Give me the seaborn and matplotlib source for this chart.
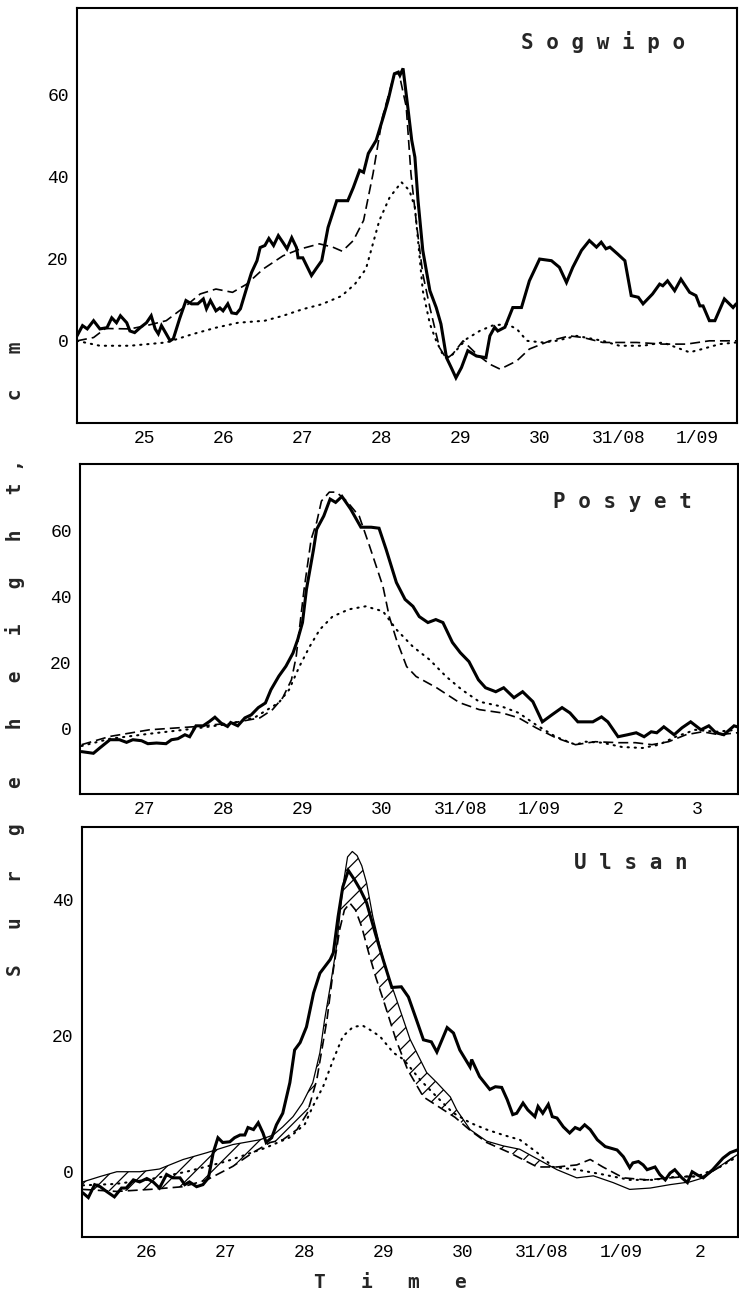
import numpy as np
import matplotlib
matplotlib.use("Agg")
import matplotlib.pyplot as plt
import seaborn as sns

# ---------------- data (day of month, cm) ----------------
# Sogwipo
SOG_OBS_T = [24.14, 24.21, 24.27, 24.35, 24.43, 24.52, 24.58, 24.64, 24.69, 24.77,
             24.81, 24.87, 24.94, 25.02, 25.08, 25.13, 25.17, 25.21, 25.27, 25.32,
             25.36, 25.44, 25.52, 25.59, 25.67, 25.74, 25.78, 25.83, 25.90, 25.95,
             25.99, 26.05, 26.10, 26.16, 26.21, 26.29, 26.35, 26.42, 26.46, 26.52,
             26.57, 26.63, 26.69, 26.75, 26.80, 26.86, 26.92, 26.94, 27.00, 27.11,
             27.17, 27.24, 27.32, 27.43, 27.57, 27.64, 27.72, 27.77, 27.83, 27.93,
             28.02, 28.08, 28.16, 28.21, 28.23, 28.27, 28.33, 28.38, 28.42, 28.46,
             28.52, 28.61, 28.69, 28.75, 28.82, 28.88, 28.94, 29.01, 29.09, 29.20,
             29.32, 29.37, 29.43, 29.47, 29.56, 29.66, 29.77, 29.87, 30.00, 30.15,
             30.25, 30.34, 30.42, 30.53, 30.63, 30.72, 30.78, 30.84, 30.89, 30.99,
             31.08, 31.16, 31.25, 31.31, 31.43, 31.52, 31.56, 31.62, 31.71, 31.79,
             31.90, 31.98, 32.03, 32.07, 32.15, 32.22, 32.34, 32.45, 32.49]
SOG_OBS_V = [1.2, 3.7, 2.9, 4.9, 2.9, 3.2, 5.6, 4.4, 6.1, 4.4,
             2.4, 2.0, 3.2, 4.4, 6.1, 2.9, 1.7, 3.7, 1.7, 0.0,
             0.5, 5.4, 9.8, 9.0, 9.0, 10.2, 7.8, 9.8, 7.3, 8.0,
             7.3, 9.0, 6.8, 6.6, 7.8, 12.9, 16.6, 19.5, 22.7, 23.2,
             24.9, 23.2, 25.6, 23.9, 22.4, 25.1, 22.7, 20.2, 20.2, 15.9,
             17.6, 19.5, 27.6, 34.1, 34.1, 37.3, 41.5, 41.0, 45.6, 48.8,
             54.5, 58.5, 65.0, 65.4, 64.6, 66.3, 56.9, 48.8, 44.7, 34.1,
             22.0, 12.2, 8.1, 4.1, -4.1, -6.5, -9.0, -6.5, -2.4, -3.7,
             -4.1, 1.2, 3.3, 2.4, 3.3, 8.1, 8.1, 14.6, 19.9, 19.5,
             17.9, 14.2, 17.9, 22.0, 24.4, 22.8, 24.0, 22.4, 22.8, 21.1,
             19.5, 11.0, 10.6, 9.0, 11.4, 13.8, 13.4, 14.6, 12.2, 15.0,
             11.8, 11.0, 8.5, 8.5, 4.9, 4.9, 10.2, 8.1, 9.0]
SOG_DASH_T = [24.14, 24.35, 24.50, 24.81, 25.02, 25.27, 25.52, 25.70, 25.90, 26.11,
              26.29, 26.50, 26.75, 26.96, 27.21, 27.38, 27.50, 27.64, 27.77, 27.89,
              28.01, 28.16, 28.22, 28.31, 28.37, 28.44, 28.52, 28.61, 28.73, 28.82,
              28.90, 29.03, 29.20, 29.37, 29.50, 29.71, 29.87, 30.13, 30.38, 30.55,
              30.80, 31.23, 31.56, 31.86, 32.15, 32.49]
SOG_DASH_V = [0.0, 0.8, 3.0, 2.9, 3.7, 4.9, 8.5, 11.4, 12.6, 11.8,
              13.8, 17.5, 20.7, 22.3, 23.6, 22.8, 21.8, 24.4, 29.3, 40.7,
              54.5, 65.0, 65.0, 57.0, 40.7, 28.5, 16.3, 8.1, -1.6, -4.4,
              -3.2, 0.0, -3.2, -5.7, -6.9, -4.9, -2.0, 0.0, 1.2, 0.8,
              -0.4, -0.4, -0.8, -0.8, 0.0, 0.0]
SOG_DOT_T = [24.14, 24.43, 24.81, 25.27, 25.60, 25.90, 26.18, 26.52, 26.75, 27.00,
             27.24, 27.49, 27.66, 27.80, 27.97, 28.10, 28.25, 28.35, 28.42, 28.46,
             28.52, 28.61, 28.69, 28.77, 28.86, 28.94, 29.07, 29.24, 29.40, 29.58,
             29.71, 29.84, 30.04, 30.21, 30.47, 30.80, 31.01, 31.31, 31.56, 31.73,
             31.90, 32.06, 32.28, 32.49]
SOG_DOT_V = [0.0, -1.2, -1.2, -0.4, 1.6, 3.2, 4.4, 4.9, 6.1, 7.7,
             8.9, 10.9, 13.8, 17.5, 29.3, 34.9, 38.6, 36.6, 32.5, 24.4,
             12.2, 4.1, 0.0, -3.2, -4.1, -2.4, 0.4, 2.4, 3.7, 4.1,
             2.9, 0.0, -0.4, 0.0, 1.2, 0.0, -1.2, -1.2, -0.4, -1.6,
             -2.8, -2.0, -0.8, -0.4]

# Posyet
POS_OBS_T = [26.20, 26.35, 26.43, 26.56, 26.68, 26.77, 26.85, 26.96, 27.04, 27.15,
             27.27, 27.34, 27.42, 27.51, 27.57, 27.65, 27.74, 27.82, 27.89, 27.97,
             28.05, 28.09, 28.18, 28.27, 28.35, 28.44, 28.53, 28.60, 28.70, 28.79,
             28.88, 28.94, 29.00, 29.05, 29.14, 29.18, 29.27, 29.35, 29.42, 29.50,
             29.61, 29.74, 29.87, 29.97, 30.06, 30.19, 30.30, 30.40, 30.48, 30.59,
             30.69, 30.78, 30.90, 31.00, 31.11, 31.23, 31.32, 31.45, 31.55, 31.68,
             31.79, 31.92, 32.04, 32.16, 32.29, 32.39, 32.49, 32.68, 32.79, 32.87,
             33.00, 33.12, 33.23, 33.33, 33.42, 33.49, 33.58, 33.71, 33.81, 33.92,
             34.05, 34.15, 34.24, 34.34, 34.47, 34.51]
POS_OBS_V = [-6.9, -7.4, -5.8, -3.3, -3.3, -4.1, -3.3, -3.6, -4.5, -4.3,
             -4.5, -3.3, -3.0, -1.8, -2.4, 0.9, 0.9, 2.2, 3.5, 1.7,
             0.7, 1.9, 0.9, 3.3, 4.2, 6.4, 7.8, 11.8, 15.9, 18.9,
             22.9, 27.0, 32.1, 42.1, 54.2, 60.3, 64.3, 69.4, 68.4, 70.2,
             66.4, 60.9, 60.9, 60.6, 54.2, 44.2, 39.1, 37.0, 33.9, 32.1,
             33.0, 32.1, 26.1, 23.0, 20.3, 14.8, 12.4, 11.2, 12.4, 9.4,
             11.2, 8.2, 2.1, 4.2, 6.4, 4.8, 2.1, 2.1, 3.6, 2.1,
             -2.4, -1.8, -1.2, -2.4, -0.9, -1.2, 0.6, -1.8, 0.3, 2.1,
             -0.3, 0.9, -1.2, -1.8, 0.9, 0.6]
POS_DASH_T = [26.20, 26.56, 27.06, 27.61, 28.12, 28.46, 28.62, 28.75, 28.86, 28.92,
              28.96, 29.02, 29.11, 29.18, 29.24, 29.34, 29.43, 29.56, 29.72, 29.85,
              30.02, 30.10, 30.19, 30.32, 30.44, 30.70, 30.99, 31.24, 31.53, 31.74,
              31.96, 32.21, 32.46, 32.71, 33.01, 33.22, 33.43, 33.64, 33.86, 34.07,
              34.28, 34.51]
POS_DASH_V = [-4.8, -2.3, -0.3, 0.6, 1.8, 3.3, 5.8, 9.4, 14.8, 21.8,
              30.0, 42.1, 57.3, 62.4, 68.8, 71.5, 71.5, 68.8, 64.2, 55.2,
              43.0, 33.9, 27.0, 18.8, 15.8, 12.4, 7.9, 5.8, 4.8, 3.3,
              0.3, -2.7, -4.8, -3.9, -4.2, -4.2, -4.8, -3.9, -1.8, -0.9,
              -1.8, -1.2]
POS_DOT_T = [26.20, 26.56, 27.06, 27.61, 28.08, 28.40, 28.70, 28.83, 28.96, 29.09,
             29.22, 29.38, 29.59, 29.80, 30.02, 30.19, 30.40, 30.61, 30.82, 31.02,
             31.24, 31.53, 31.74, 31.96, 32.21, 32.46, 32.59, 32.80, 33.05, 33.31,
             33.52, 33.73, 33.98, 34.24, 34.51]
POS_DOT_V = [-5.2, -3.0, -1.5, 0.0, 1.5, 3.5, 7.9, 11.8, 18.8, 24.8,
             30.0, 33.9, 36.1, 37.0, 35.5, 30.0, 24.8, 20.9, 15.8, 11.8,
             8.2, 6.7, 4.8, 1.2, -2.4, -4.8, -3.9, -4.2, -5.5, -5.8,
             -4.8, -2.4, -0.3, -0.9, -0.3]

# Ulsan
ULS_OBS_T = [25.19, 25.26, 25.34, 25.41, 25.49, 25.59, 25.68, 25.74, 25.83, 25.91,
             26.00, 26.08, 26.16, 26.25, 26.33, 26.42, 26.48, 26.54, 26.63, 26.71,
             26.78, 26.84, 26.90, 26.96, 27.05, 27.11, 27.18, 27.24, 27.28, 27.35,
             27.41, 27.47, 27.51, 27.58, 27.64, 27.72, 27.81, 27.87, 27.94, 28.02,
             28.11, 28.19, 28.32, 28.36, 28.42, 28.48, 28.55, 28.63, 28.70, 28.78,
             28.89, 28.99, 29.10, 29.22, 29.31, 29.41, 29.50, 29.60, 29.67, 29.80,
             29.88, 29.96, 30.09, 30.11, 30.21, 30.34, 30.41, 30.49, 30.56, 30.63,
             30.68, 30.76, 30.82, 30.91, 30.95, 31.01, 31.08, 31.13, 31.19, 31.27,
             31.35, 31.42, 31.48, 31.54, 31.61, 31.70, 31.80, 31.86, 31.95, 32.03,
             32.11, 32.15, 32.22, 32.28, 32.33, 32.43, 32.49, 32.56, 32.62, 32.68,
             32.77, 32.84, 32.90, 32.97, 33.04, 33.16, 33.29, 33.38, 33.47]
ULS_OBS_V = [-3.1, -3.8, -1.9, -2.2, -2.9, -3.7, -2.4, -2.4, -1.2, -1.5,
             -1.0, -1.5, -2.4, -0.4, -0.9, -0.9, -1.9, -1.5, -2.2, -1.9,
             -0.9, 2.8, 5.0, 4.3, 4.4, 5.0, 5.4, 5.4, 6.5, 6.2,
             7.2, 5.7, 4.3, 5.0, 6.9, 8.6, 13.1, 17.9, 19.0, 21.3,
             26.3, 29.2, 31.2, 32.2, 37.5, 41.9, 44.3, 42.9, 41.5, 39.6,
             35.1, 31.2, 27.1, 27.2, 25.7, 22.4, 19.4, 19.1, 17.6, 21.2,
             20.4, 17.9, 15.4, 16.5, 14.0, 12.1, 12.5, 12.4, 10.6, 8.4,
             8.6, 10.1, 9.1, 8.1, 9.6, 8.6, 9.9, 8.1, 7.9, 6.6,
             5.7, 6.5, 6.2, 6.9, 6.2, 4.7, 3.7, 3.5, 3.2, 2.2,
             0.6, 1.3, 1.5, 1.0, 0.3, 0.7, -0.4, -1.2, -0.2, 0.3,
             -0.9, -1.6, 0.0, -0.5, -0.9, 0.3, 2.0, 2.8, 3.2]
ULS_THIN_T = [25.19, 25.41, 25.62, 25.91, 26.16, 26.46, 26.76, 27.09, 27.43, 27.60,
              27.72, 27.85, 27.97, 28.10, 28.19, 28.25, 28.32, 28.40, 28.48, 28.54,
              28.60, 28.66, 28.72, 28.78, 28.86, 28.95, 29.04, 29.16, 29.33, 29.54,
              29.67, 29.84, 29.92, 30.09, 30.30, 30.51, 30.72, 30.89, 31.19, 31.44,
              31.65, 31.90, 32.11, 32.37, 32.62, 32.87, 33.04, 33.25, 33.47]
ULS_THIN_V = [-1.5, -0.7, 0.0, 0.0, 0.4, 1.8, 2.8, 4.0, 4.7, 5.4,
              6.6, 8.1, 10.1, 13.1, 17.5, 22.4, 27.2, 33.1, 41.9, 46.3,
              47.1, 46.5, 45.0, 42.5, 37.5, 33.1, 29.3, 25.3, 19.5, 14.6,
              13.1, 11.0, 9.1, 6.2, 4.5, 3.8, 3.3, 2.2, 0.3, -0.9,
              -0.6, -1.6, -2.6, -2.4, -1.9, -1.5, -0.9, 0.8, 2.5]
ULS_DASH_T = [25.19, 25.62, 26.04, 26.46, 26.76, 27.09, 27.34, 27.56, 27.72, 27.90,
              28.03, 28.15, 28.28, 28.36, 28.44, 28.50, 28.57, 28.64, 28.72, 28.80,
              28.90, 29.00, 29.15, 29.30, 29.50, 29.70, 29.90, 30.10, 30.30, 30.59,
              30.94, 31.19, 31.44, 31.61, 31.77, 32.03, 32.33, 32.62, 32.84, 33.04,
              33.25, 33.47]
ULS_DASH_V = [-2.6, -2.9, -2.6, -2.2, -1.2, 0.8, 2.8, 4.3, 4.7, 6.2,
              8.6, 13.5, 22.4, 29.7, 35.6, 38.5, 39.5, 38.5, 36.0, 32.5,
              28.5, 25.0, 19.5, 15.0, 11.0, 9.5, 8.0, 6.0, 4.3, 2.8,
              0.7, 0.7, 1.0, 1.8, 0.7, -0.9, -1.2, -0.9, -0.7, -0.7,
              0.7, 2.5]
ULS_DOT_T = [25.19, 25.60, 26.00, 26.50, 27.00, 27.50, 27.80, 28.00, 28.10, 28.23,
             28.36, 28.48, 28.61, 28.73, 28.82, 28.95, 29.12, 29.25, 29.46, 29.67,
             29.87, 30.09, 30.30, 30.51, 30.72, 30.94, 31.14, 31.44, 31.77, 32.11,
             32.41, 32.71, 32.96, 33.25, 33.47]
ULS_DOT_V = [-2.0, -1.8, -1.2, 0.0, 1.5, 3.5, 5.0, 7.0, 9.6, 12.5,
             16.5, 19.9, 21.3, 21.5, 20.9, 19.9, 17.5, 16.5, 13.5, 11.0,
             8.7, 7.2, 6.2, 5.4, 4.7, 2.8, 0.7, 0.3, -0.4, -1.2,
             -1.2, -0.7, -0.7, 0.7, 2.2]

# ticks / labels
SOG_XTICKS = [25, 26, 27, 28, 29, 30, 31, 32]
SOG_XLABELS = ["25", "26", "27", "28", "29", "30", "31/08", "1/09"]
POS_XTICKS = [27, 28, 29, 30, 31, 32, 33, 34]
POS_XLABELS = ["27", "28", "29", "30", "31/08", "1/09", "2", "3"]
ULS_XTICKS = [26, 27, 28, 29, 30, 31, 32, 33]
ULS_XLABELS = ["26", "27", "28", "29", "30", "31/08", "1/09", "2"]
YTICKS_A = [0, 20, 40, 60]
YTICKS_B = [0, 20, 40]
TITLES = ["S o g w i p o", "P o s y e t", "U l s a n"]

# ---------------- style ----------------
sns.set_style("white")
plt.rcParams["font.family"] = ["Liberation Mono", "DejaVu Sans Mono"]
plt.rcParams["hatch.linewidth"] = 0.9

fig = plt.figure(figsize=(7.39, 13.01), dpi=100)

axes_pos = [
    [77 / 739, 1 - 423 / 1301, 660 / 739, 415 / 1301],
    [80 / 739, 1 - 794 / 1301, 658 / 739, 330 / 1301],
    [82 / 739, 1 - 1237 / 1301, 656 / 739, 410 / 1301],
]

OBS_KW = dict(color="black", linewidth=2.2, solid_joinstyle="miter")
DASH_KW = dict(color="black", linewidth=1.2, linestyle=(0, (6, 3)))
DOT_KW = dict(color="black", linewidth=1.5, linestyle=(0, (0.6, 2.8)),
              dash_capstyle="round")
THIN_KW = dict(color="black", linewidth=0.9)


def line(ax, t, v, kw):
    sns.lineplot(x=np.asarray(t), y=np.asarray(v), ax=ax, estimator=None,
                 sort=False, legend=False, **kw)


def style_axes(ax, xlim, ylim, xticks, xlabels, yticks, title, tpos):
    ax.set_xlim(*xlim)
    ax.set_ylim(*ylim)
    ax.set_xticks(xticks)
    ax.set_xticklabels(xlabels)
    ax.set_yticks(yticks)
    ax.set_yticklabels([str(y) for y in yticks])
    ax.set_xlabel("")
    ax.set_ylabel("")
    for s in ax.spines.values():
        s.set_visible(True)
        s.set_linewidth(1.5)
        s.set_color("black")
    ax.tick_params(axis="x", direction="in", length=7, width=1.3, pad=5,
                   labelsize=13, colors="black")
    ax.tick_params(axis="y", direction="in", length=5.5, width=1.3, pad=6,
                   labelsize=13, colors="black")
    ax.text(tpos[0], tpos[1], title, transform=ax.transAxes, ha="center",
            va="center", fontsize=15, fontweight="bold",
            family="DejaVu Sans Mono")


# Panel 1: Sogwipo
ax1 = fig.add_axes(axes_pos[0])
line(ax1, SOG_DOT_T, SOG_DOT_V, DOT_KW)
line(ax1, SOG_DASH_T, SOG_DASH_V, DASH_KW)
line(ax1, SOG_OBS_T, SOG_OBS_V, OBS_KW)
style_axes(ax1, (24.14, 32.50), (-20, 81), SOG_XTICKS, SOG_XLABELS, YTICKS_A,
           TITLES[0], (0.797, 0.918))

# Panel 2: Posyet
ax2 = fig.add_axes(axes_pos[1])
line(ax2, POS_DOT_T, POS_DOT_V, DOT_KW)
line(ax2, POS_DASH_T, POS_DASH_V, DASH_KW)
line(ax2, POS_OBS_T, POS_OBS_V, OBS_KW)
style_axes(ax2, (26.18, 34.52), (-19.7, 80), POS_XTICKS, POS_XLABELS, YTICKS_A,
           TITLES[1], (0.824, 0.885))

# Panel 3: Ulsan
ax3 = fig.add_axes(axes_pos[2])
grid = np.union1d(ULS_THIN_T, ULS_DASH_T)
hi = np.interp(grid, ULS_THIN_T, ULS_THIN_V)
lo = np.interp(grid, ULS_DASH_T, ULS_DASH_V)
ax3.fill_between(grid, lo, hi, where=hi >= lo, interpolate=True,
                 facecolor="none", edgecolor="black", hatch="//", linewidth=0)
line(ax3, ULS_DOT_T, ULS_DOT_V, DOT_KW)
line(ax3, ULS_DASH_T, ULS_DASH_V, DASH_KW)
line(ax3, ULS_THIN_T, ULS_THIN_V, THIN_KW)
line(ax3, ULS_OBS_T, ULS_OBS_V, OBS_KW)
style_axes(ax3, (25.18, 33.48), (-9.6, 50.7), ULS_XTICKS, ULS_XLABELS, YTICKS_B,
           TITLES[2], (0.837, 0.912))

# Axis labels
ylab = "S   u   r   g   e    h   e   i   g   h   t ,     c   m"
fig.text(0.020, 1 - 659 / 1301, ylab, rotation=90, ha="center", va="center",
         fontsize=14, fontweight="bold", family="DejaVu Sans Mono")
fig.text(390 / 739, 1 - 1283 / 1301, "T   i   m   e", ha="center", va="center",
         fontsize=14, fontweight="bold", family="DejaVu Sans Mono")

fig.savefig("out.png", dpi=100, facecolor="white")
